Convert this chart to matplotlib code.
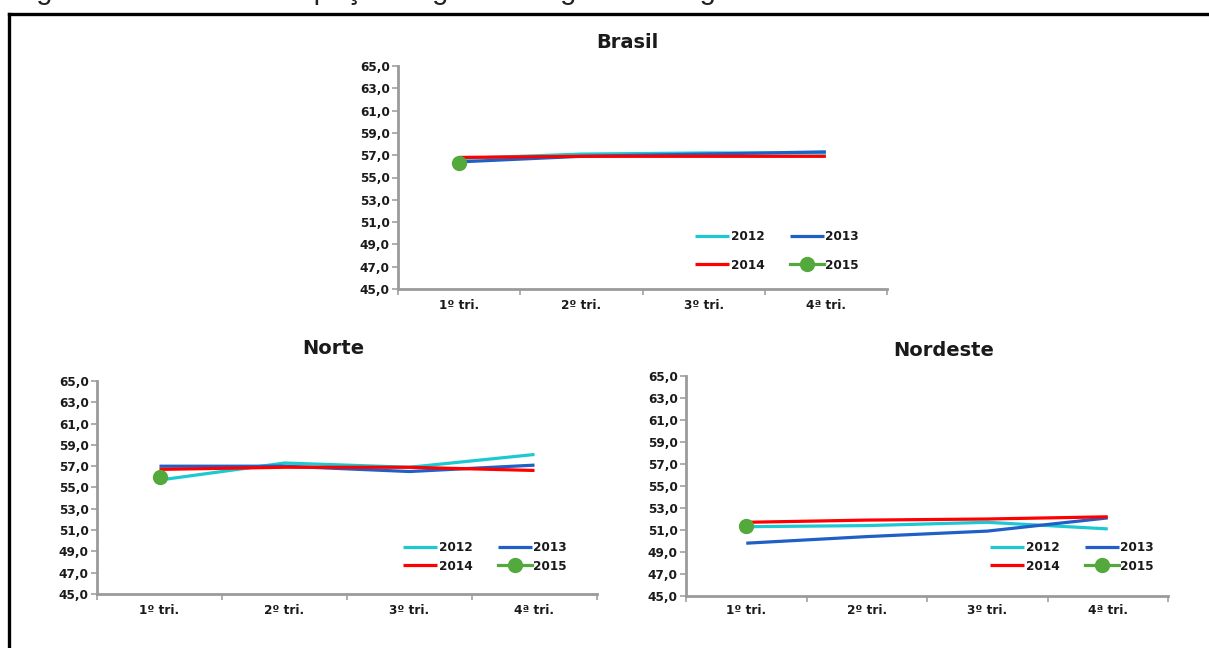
import matplotlib
matplotlib.use("Agg")
import matplotlib.pyplot as plt
from matplotlib.lines import Line2D
from matplotlib.ticker import FixedLocator, FuncFormatter

W, H = 1209, 648

quarters = ["1º tri.", "2º tri.", "3º tri.", "4ª tri."]
years = ["2012", "2013", "2014", "2015"]

brasil_2012 = [56.7, 57.1, 57.2, 57.2]
brasil_2013 = [56.4, 56.9, 57.1, 57.3]
brasil_2014 = [56.8, 56.9, 56.9, 56.9]
brasil_2015 = [56.3]

norte_2012 = [55.7, 57.3, 56.9, 58.1]
norte_2013 = [57.0, 57.0, 56.5, 57.1]
norte_2014 = [56.7, 56.9, 56.9, 56.6]
norte_2015 = [56.0]

nordeste_2012 = [51.3, 51.4, 51.7, 51.1]
nordeste_2013 = [49.8, 50.4, 50.9, 52.1]
nordeste_2014 = [51.7, 51.9, 52.0, 52.2]
nordeste_2015 = [51.4]

colors = {"2012": "#1cc9d2", "2013": "#1f5fc6", "2014": "#ff0000", "2015": "#53a93b"}

fig = plt.figure(figsize=(W / 100, H / 100), dpi=100)

font_bold = ["DejaVu Sans"]
small = 8.7


def px_axes(left, right, top, bottom):
    return fig.add_axes([left / W, 1 - bottom / H, (right - left) / W, (bottom - top) / H])


def panel(box, title, series, title_xy, legend_anchor, labelspacing, xpad):
    ax = px_axes(*box)
    x = list(range(len(quarters)))
    handles = {}
    for yr, vals in zip(years, series):
        if yr == "2015":
            h, = ax.plot(x[:len(vals)], vals, color=colors[yr], lw=2.3, marker="o",
                         markersize=10, label=yr, zorder=5)
        else:
            h, = ax.plot(x[:len(vals)], vals, color=colors[yr], lw=2.3, label=yr,
                         solid_capstyle="butt")
        handles[yr] = h
    ax.set_xlim(-0.5, 3.5)
    ax.set_ylim(45, 65)
    ax.yaxis.set_major_locator(FixedLocator(list(range(45, 66, 2))))
    ax.yaxis.set_major_formatter(FuncFormatter(lambda v, p: f"{v:.1f}".replace(".", ",")))
    ax.set_xticks(x)
    ax.set_xticklabels(quarters)
    ax.set_xticks([-0.5, 0.5, 1.5, 2.5, 3.5], minor=True)
    ax.tick_params(axis="x", which="major", length=0, pad=xpad)
    ax.tick_params(axis="x", which="minor", length=4, width=1.2, color="#a0a0a0", direction="out")
    ax.tick_params(axis="y", length=4, width=1.2, color="#a0a0a0", direction="out", pad=2)
    for lab in ax.get_xticklabels() + ax.get_yticklabels():
        lab.set_fontfamily(font_bold)
        lab.set_fontweight("bold")
        lab.set_fontsize(small)
        lab.set_color("#1a1a1a")
    for side in ("top", "right"):
        ax.spines[side].set_visible(False)
    for side in ("left", "bottom"):
        ax.spines[side].set_color("#9a9a9a")
        ax.spines[side].set_linewidth(2.0)
    ax.patch.set_alpha(0)
    fig.text(title_xy[0] / W, 1 - title_xy[1] / H, title, ha="center", va="center",
             fontsize=14, fontweight="bold", family=font_bold, color="#1a1a1a")
    # two columns filled row by row: 2012 2013 / 2014 2015
    order = ["2012", "2014", "2013", "2015"]
    leg = ax.legend([handles[k] for k in order], order, ncol=2, loc="center",
                    bbox_to_anchor=(legend_anchor[0] / W, 1 - legend_anchor[1] / H),
                    bbox_transform=fig.transFigure, frameon=False, handlelength=2.85,
                    handletextpad=0.1, columnspacing=2.1, labelspacing=labelspacing,
                    borderpad=0, prop={"family": font_bold, "weight": "bold", "size": small})
    for t in leg.get_texts():
        t.set_color("#1a1a1a")
    return ax


panel((398, 887, 66, 289), "Brasil",
      [brasil_2012, brasil_2013, brasil_2014, brasil_2015],
      (627, 42), (777, 251), 1.25, 7)
panel((97, 597, 381, 594), "Norte",
      [norte_2012, norte_2013, norte_2014, norte_2015],
      (333, 349), (485, 557), 0.45, 7)
panel((686, 1168, 376, 596), "Nordeste",
      [nordeste_2012, nordeste_2013, nordeste_2014, nordeste_2015],
      (944, 351), (1072, 557), 0.45, 6)

# caption line at the very top of the page (cut by the page edge)
fig.text(12 / W, 1 + 1 / H, "Figura 4 – Nível da ocupação segundo as grandes regiões do Brasil – 1º trimestre de 2015",
         ha="left", va="baseline", fontsize=21, family=["Liberation Sans", "DejaVu Sans"], color="#222222")

# frame of the figure box
fig.add_artist(Line2D([9 / W, 1.0], [1 - 14 / H, 1 - 14 / H], transform=fig.transFigure,
                      color="black", lw=2.4, solid_capstyle="projecting"))
fig.add_artist(Line2D([9 / W, 9 / W], [1 - 14 / H, 0.0], transform=fig.transFigure,
                      color="black", lw=2.4, solid_capstyle="projecting"))

fig.savefig("out.png", dpi=100)
